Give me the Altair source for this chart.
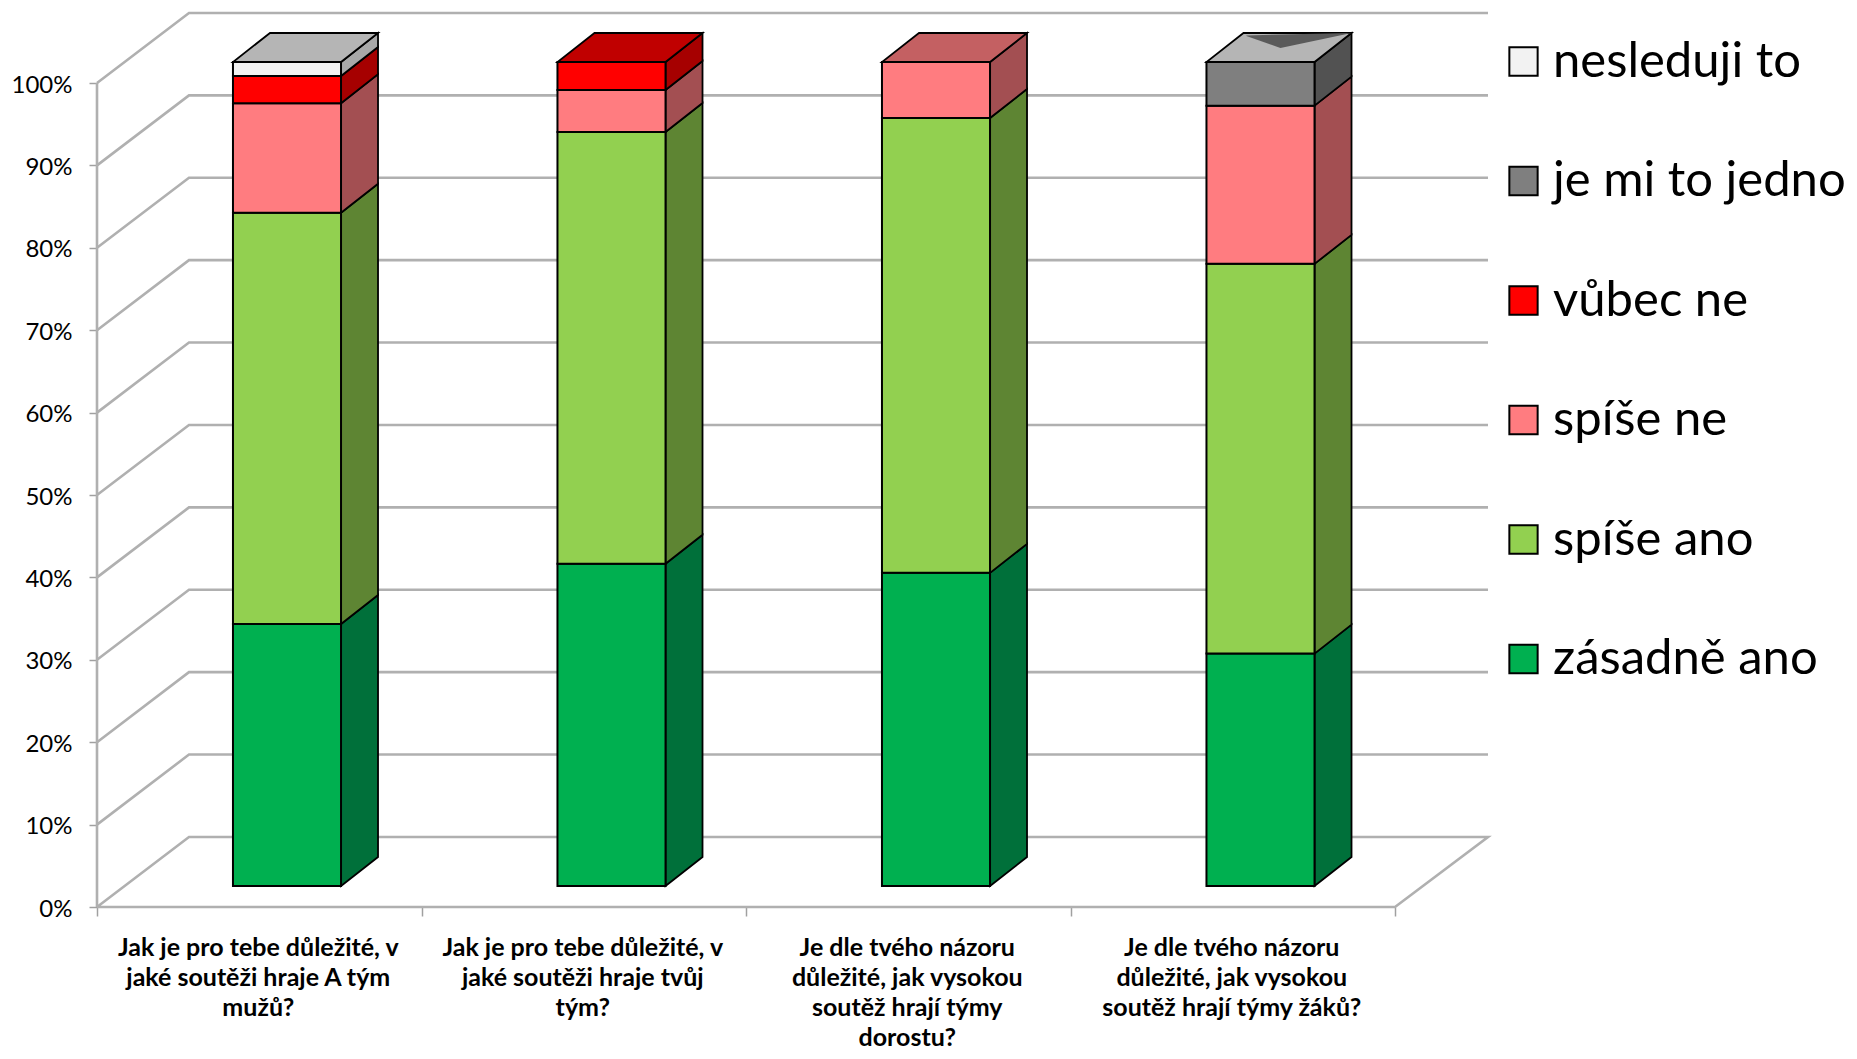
import altair as alt
import pandas as pd

questions = [
    ["Jak je pro tebe důležité, v", "jaké soutěži hraje A tým", "mužů?"],
    ["Jak je pro tebe důležité, v", "jaké soutěži hraje tvůj", "tým?"],
    ["Je dle tvého názoru", "důležité, jak vysokou", "soutěž hrají týmy", "dorostu?"],
    ["Je dle tvého názoru", "důležité, jak vysokou", "soutěž hrají týmy žáků?"],
]
series = ["zásadně ano", "spíše ano", "spíše ne", "vůbec ne", "je mi to jedno", "nesleduji to"]
zasadne_ano = [31.8, 39.1, 38.0, 28.2]
spise_ano = [49.9, 52.4, 55.2, 47.3]
spise_ne = [13.3, 5.1, 6.8, 19.2]
vubec_ne = [3.3, 3.4, 0, 0]
jedno = [0, 0, 0, 5.3]
nesleduji = [1.7, 0, 0, 0]
values = [zasadne_ano, spise_ano, spise_ne, vubec_ne, jedno, nesleduji]

front_colors = ["#00B050", "#92D050", "#FF7C80", "#FF0000", "#7F7F7F", "#F2F2F2"]
side_colors = ["#00703A", "#5E8533", "#A34F52", "#A60000", "#525252", "#A9A9A9"]
top_colors = ["#00873D", "#70A03D", "#C46062", "#C00000", "#B5B5B5", "#B5B5B5"]

ticks = list(range(0, 101, 10))
GRID = "#B0B0B0"
wall_dc, wall_dp = 0.2835, 8.5
c_end, p_end = 1391 / 324.5, 897 / 8.24
bar_left, bar_w, base = 0.419, 0.333, 2.55
bar_dc, bar_dp = 0.114, 3.52

xs = alt.Scale(domain=[0, c_end], nice=False, zero=False)
ys = alt.Scale(domain=[0, p_end], nice=False, zero=False)

grid_rows = []
for t in ticks[1:]:
    for i, (c, p) in enumerate([(0, t), (wall_dc, t + wall_dp), (c_end, t + wall_dp)]):
        grid_rows.append(dict(k=f"g{t}", o=i, c=c, p=p))
for i, (c, p) in enumerate([(0, 0), (wall_dc, wall_dp), (c_end, wall_dp), (4, 0), (0, 0)]):
    grid_rows.append(dict(k="floor", o=i, c=c, p=p))
for i, (c, p) in enumerate([(0, 0), (0, 100)]):
    grid_rows.append(dict(k="axis", o=i, c=c, p=p))

fronts, sides, tops = [], [], []
for b in range(4):
    left = b + bar_left
    right = left + bar_w
    cum = base
    last = 0
    for s, name in enumerate(series):
        v = values[s][b]
        if v <= 0:
            continue
        lo, hi = cum, cum + v
        cum = hi
        last = s
        fronts.append(dict(series=name, c=left, c2=right, p=lo, p2=hi))
        key = f"{b}-{s}"
        sides.append(dict(k=key, fill=side_colors[s], c=right, p=lo, p2=hi))
        sides.append(dict(k=key, fill=side_colors[s], c=right + bar_dc, p=lo + bar_dp, p2=hi + bar_dp))
    key = f"t{b}"
    tops.append(dict(k=key, fill=top_colors[last], c=left, c2=right, p=cum))
    tops.append(dict(k=key, fill=top_colors[last], c=left + bar_dc, c2=right + bar_dc, p=cum + bar_dp))

top_4 = base + 100
notch = pd.DataFrame([
    dict(c=3 + bar_left + 0.123, p=top_4 + 3.15, p2=top_4 + 3.2),
    dict(c=3 + bar_left + 0.228, p=top_4 + 1.7, p2=top_4 + 3.35),
    dict(c=3 + bar_left + bar_w + bar_dc, p=top_4 + bar_dp, p2=top_4 + bar_dp),
])

labels = pd.DataFrame([dict(c=i + 0.497, t=q) for i, q in enumerate(questions)])

grid = alt.Chart(pd.DataFrame(grid_rows)).mark_line(color=GRID, strokeWidth=2.6).encode(
    x=alt.X("c:Q", scale=xs, title=None,
            axis=alt.Axis(values=[0, 1, 2, 3, 4], labels=False, domain=False, grid=False,
                          tickColor="#A0A0A0", tickSize=9, tickWidth=1.5)),
    y=alt.Y("p:Q", scale=ys, title=None,
            axis=alt.Axis(values=ticks, domain=False, grid=False, labelExpr="datum.value + '%'",
                          labelFontSize=24, labelFont="Lato", labelColor="black", labelPadding=17,
                          labelOffset=2, tickColor="#A0A0A0", tickSize=8, tickWidth=1.5)),
    detail="k:N", order="o:Q",
)

side_layer = alt.Chart(pd.DataFrame(sides)).mark_area(stroke="black", strokeWidth=1.8).encode(
    x=alt.X("c:Q", scale=xs), y=alt.Y("p:Q", scale=ys), y2="p2:Q",
    color=alt.Color("fill:N", scale=None), detail="k:N",
)

front_layer = alt.Chart(pd.DataFrame(fronts)).mark_rect(stroke="black", strokeWidth=2).encode(
    x=alt.X("c:Q", scale=xs), x2="c2:Q", y=alt.Y("p:Q", scale=ys), y2="p2:Q",
    color=alt.Color(
        "series:N",
        scale=alt.Scale(domain=series[::-1], range=front_colors[::-1]),
        legend=alt.Legend(
            title=None, orient="none", legendX=1402, legendY=27, symbolType="square",
            symbolSize=800, symbolStrokeColor="black", symbolStrokeWidth=2, symbolOpacity=1,
            labelFontSize=49, labelFont="Lato", labelColor="black", labelOffset=5,
            labelLimit=400, rowPadding=69.5,
        ),
    ),
)

top_layer = alt.Chart(pd.DataFrame(tops)).mark_area(orient="horizontal", stroke="black", strokeWidth=1.8).encode(
    y=alt.Y("p:Q", scale=ys), x=alt.X("c:Q", scale=xs), x2="c2:Q",
    color=alt.Color("fill:N", scale=None), detail="k:N",
)

notch_layer = alt.Chart(notch).mark_area(color="#5A5A5A").encode(
    x=alt.X("c:Q", scale=xs), y=alt.Y("p:Q", scale=ys), y2="p2:Q",
)

label_layer = alt.Chart(labels).mark_text(
    font="Lato", fontWeight="bold", fontSize=25, lineHeight=30, baseline="top", align="center", color="black",
).encode(x=alt.X("c:Q", scale=xs), y=alt.value(926), text="t:N")

chart = alt.layer(grid, side_layer, front_layer, top_layer, notch_layer, label_layer).properties(
    width=1391, height=897,
    padding={"left": 89, "top": 2, "right": 361, "bottom": 144},
    autosize=alt.AutoSizeParams(type="none"),
    background="white",
).configure_view(stroke=None)

chart.save("out.html", embed_options={"renderer": "svg", "actions": False})
